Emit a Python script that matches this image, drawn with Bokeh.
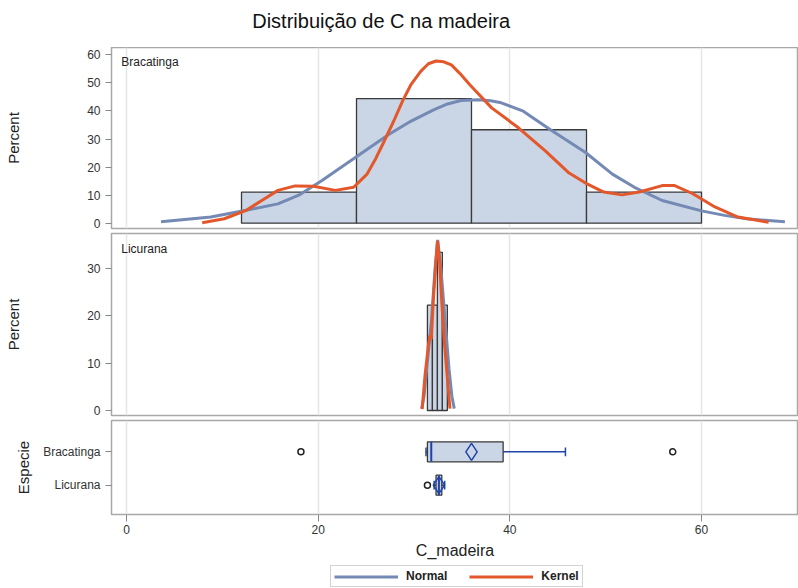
from bokeh.plotting import figure
from bokeh.layouts import column
from bokeh.models import (Range1d, FixedTicker, Grid, Label, Legend, LegendItem,
                          ColumnDataSource)
from bokeh.embed import file_html
from bokeh.resources import INLINE

# ---------------- data ----------------
title_text = "Distribuição de C na madeira"
x_ticks = [0, 20, 40, 60]

brac_edges = [12, 24, 36, 48, 60]
brac_pct = [11.1, 44.4, 33.3, 11.1]

lic_edges = [31.40, 31.92, 32.44, 32.96, 33.48]
lic_pct = [22.2, 22.2, 33.3, 22.2]

brac_norm_x = [3.6, 8.8, 12.5, 15.8, 18.1, 20.4, 23.8, 27.4, 29.7, 32.1, 33.5, 34.9,
               36.7, 38.0, 39.1, 41.4, 44.2, 47.9, 50.7, 53.0, 55.9, 60.0, 62.4,
               64.7, 68.7]
brac_norm_y = [0.5, 2.2, 4.6, 6.9, 10.2, 15.2, 23.2, 31.7, 36.4, 40.5, 42.5, 43.7,
               44.0, 43.6, 42.9, 39.9, 33.4, 25.2, 17.5, 12.8, 8.1, 4.4, 2.8,
               1.6, 0.5]

brac_kern_x = [7.9, 10.2, 12.5, 14.2, 15.8, 17.6, 19.5, 21.8, 23.7, 25.1, 26.0, 26.9,
               27.9, 28.8, 29.7, 30.7, 31.5, 32.3, 33.1, 33.9, 34.8, 35.8, 38.1,
               40.9, 43.7, 46.1, 47.9, 49.8, 51.7, 53.5, 55.9, 57.2, 59.1, 61.4,
               63.8, 67.0]
brac_kern_y = [0.2, 1.6, 4.6, 8.3, 11.7, 13.3, 13.2, 11.7, 12.8, 17.5, 23.0, 29.3,
               36.5, 43.5, 49.5, 54.1, 56.8, 57.8, 57.5, 56.4, 53.3, 49.4, 41.1,
               34.0, 25.8, 18.1, 14.3, 11.1, 10.1, 11.1, 13.4, 13.4, 10.5, 5.8,
               2.2, 0.35]

lic_norm_x = [30.8, 31.05, 31.32, 31.84, 32.19, 32.47, 32.81, 33.23, 33.65, 33.95, 34.2]
lic_norm_y = [0.4, 3.0, 8.8, 19.3, 29.8, 35.9, 29.8, 19.3, 8.8, 3.0, 0.4]

lic_kern_x = [30.85, 31.15, 31.5, 31.67, 31.8, 32.0, 32.26, 32.45, 32.65, 32.9,
              33.15, 33.4, 33.75]
lic_kern_y = [0.3, 7.4, 13.7, 15.8, 15.0, 22.8, 30.5, 35.7, 32.0, 22.8, 15.0, 8.8, 0.4]

species = ["Bracatinga", "Licurana"]
box_pos = [1, 0]
box_q1 = [31.4, 32.3]
box_med = [31.8, 32.6]
box_q3 = [39.3, 32.9]
box_mean = [36.0, 32.6]
box_wlo = [31.25, 32.1]
box_whi = [45.8, 33.2]
out_x = [18.2, 57.0, 31.4]
out_species = ["Bracatinga", "Bracatinga", "Licurana"]

# ---------------- styles ----------------
FONT = "Liberation Sans"
HIST_FILL = "#CAD5E5"
HIST_LINE = "#3A3A3A"
NORM_C = "#7489B3"
KERN_C = "#E4572A"
BOX_BLUE = "#2043A8"
FRAME_C = "#A8A8A8"
GRID_C = "#E6E6E6"
W = 798
X0, X1 = -1.565, 70.12
xr = Range1d(X0, X1)


def style(p, yticks):
    p.outline_line_color = FRAME_C
    p.outline_line_width = 1.5
    p.background_fill_color = "white"
    p.border_fill_color = "white"
    p.min_border_left = 111
    p.min_border_right = 0
    p.yaxis.ticker = FixedTicker(ticks=yticks)
    p.yaxis.axis_line_color = None
    p.yaxis.major_tick_line_color = "#888888"
    p.yaxis.major_tick_out = 6
    p.yaxis.major_tick_in = 0
    p.yaxis.minor_tick_line_color = None
    p.yaxis.major_label_text_font = FONT
    p.yaxis.major_label_text_font_size = "12px"
    p.yaxis.major_label_text_color = "#333333"
    p.yaxis.axis_label_text_font = FONT
    p.yaxis.axis_label_text_font_size = "15px"
    p.yaxis.axis_label_text_font_style = "normal"
    p.yaxis.axis_label_text_color = "#222222"
    p.add_layout(Grid(dimension=0, ticker=FixedTicker(ticks=x_ticks),
                      grid_line_color=GRID_C, grid_line_width=1.5))


# ---- title strip ----
p0 = figure(width=W, height=47, x_range=xr, y_range=Range1d(0, 47),
            output_backend="svg", toolbar_location=None,
            x_axis_location=None, y_axis_location=None, min_border=0)
p0.grid.visible = False
p0.outline_line_color = None
p0.border_fill_color = "white"
p0.add_layout(Label(x=13.12, y=27, text=title_text, text_align="left",
                    text_baseline="middle", text_font=FONT,
                    text_font_size="20px", text_color="#111111"))

# ---- top panel: Bracatinga histogram ----
p1 = figure(width=W, height=183, x_range=xr, y_range=Range1d(-1.88, 62.6),
            output_backend="svg", toolbar_location=None, x_axis_location=None)
p1.grid.visible = False
style(p1, [0, 10, 20, 30, 40, 50, 60])
p1.min_border_top = 0
p1.min_border_bottom = 2
p1.yaxis.axis_label = "Percent"
p1.yaxis.axis_label_standoff = 62
p1.quad(left=brac_edges[:-1], right=brac_edges[1:], top=brac_pct, bottom=0,
        fill_color=HIST_FILL, line_color=HIST_LINE, line_width=1.3)
p1.line(brac_norm_x, brac_norm_y, line_color=NORM_C, line_width=3)
p1.line(brac_kern_x, brac_kern_y, line_color=KERN_C, line_width=3)
p1.add_layout(Label(x=-0.55, y=57.5, text="Bracatinga", text_baseline="middle",
                    text_font=FONT, text_font_size="12px", text_color="#222222"))

# ---- middle panel: Licurana histogram ----
p2 = figure(width=W, height=187, x_range=xr, y_range=Range1d(-1.05, 37.27),
            output_backend="svg", toolbar_location=None, x_axis_location=None)
p2.grid.visible = False
style(p2, [0, 10, 20, 30])
p2.min_border_top = 3
p2.min_border_bottom = 2
p2.yaxis.axis_label = "Percent"
p2.yaxis.axis_label_standoff = 62
p2.quad(left=lic_edges[:-1], right=lic_edges[1:], top=lic_pct, bottom=0,
        fill_color=HIST_FILL, line_color=HIST_LINE, line_width=1.3)
p2.line(lic_norm_x, lic_norm_y, line_color=NORM_C, line_width=3)
p2.line(lic_kern_x, lic_kern_y, line_color=KERN_C, line_width=3)
p2.add_layout(Label(x=-0.55, y=34.1, text="Licurana", text_baseline="middle",
                    text_font=FONT, text_font_size="12px", text_color="#222222"))

# ---- bottom panel: box plots ----
p3 = figure(width=W, height=144, x_range=xr, y_range=Range1d(-0.88, 1.94),
            output_backend="svg", toolbar_location=None)
p3.grid.visible = False
style(p3, [0, 1])
p3.min_border_top = 3
p3.min_border_bottom = 0
p3.yaxis.major_label_overrides = {1: "Bracatinga", 0: "Licurana"}
p3.yaxis.axis_label = "Especie"
p3.yaxis.axis_label_standoff = 8
p3.xaxis.ticker = FixedTicker(ticks=x_ticks)
p3.xaxis.axis_line_color = None
p3.xaxis.major_tick_line_color = "#888888"
p3.xaxis.major_tick_out = 7
p3.xaxis.major_tick_in = 0
p3.xaxis.major_label_standoff = 3
p3.xaxis.minor_tick_line_color = None
p3.xaxis.major_label_text_font = FONT
p3.xaxis.major_label_text_font_size = "12px"
p3.xaxis.major_label_text_color = "#333333"
p3.xaxis.axis_label = "C_madeira"
p3.xaxis.axis_label_text_font = FONT
p3.xaxis.axis_label_text_font_size = "16px"
p3.xaxis.axis_label_text_font_style = "normal"
p3.xaxis.axis_label_text_color = "#222222"
p3.xaxis.axis_label_standoff = 5

hb = 0.30
box_src = ColumnDataSource(dict(
    y=box_pos, q1=box_q1, q3=box_q3, med=box_med, mean=box_mean,
    wlo=box_wlo, whi=box_whi,
    top=[v + hb for v in box_pos], bot=[v - hb for v in box_pos],
    ctop=[v + 0.13 for v in box_pos], cbot=[v - 0.13 for v in box_pos]))
p3.segment(x0="q3", x1="whi", y0="y", y1="y", source=box_src,
           line_color=BOX_BLUE, line_width=1.5)
p3.segment(x0="wlo", x1="q1", y0="y", y1="y", source=box_src,
           line_color=BOX_BLUE, line_width=1.5)
p3.segment(x0="whi", x1="whi", y0="cbot", y1="ctop", source=box_src,
           line_color=BOX_BLUE, line_width=1.5)
p3.segment(x0="wlo", x1="wlo", y0="cbot", y1="ctop", source=box_src,
           line_color=BOX_BLUE, line_width=1.5)
p3.quad(left="q1", right="q3", top="top", bottom="bot", source=box_src,
        fill_color=HIST_FILL, line_color=HIST_LINE, line_width=1.3)
p3.segment(x0="med", x1="med", y0="bot", y1="top", source=box_src,
           line_color=BOX_BLUE, line_width=2)
p3.scatter(x="mean", y="y", source=box_src, marker="diamond", size=17,
           fill_color=None, line_color=BOX_BLUE, line_width=1.5)
out_y = [box_pos[species.index(s)] for s in out_species]
p3.scatter(x=out_x, y=out_y, marker="circle", size=6, fill_color=None,
           line_color="#222222", line_width=1.5)

# ---- legend strip ----
p4 = figure(width=W, height=27, x_range=Range1d(0, 1), y_range=Range1d(0, 1),
            output_backend="svg", toolbar_location=None,
            x_axis_location=None, y_axis_location=None, min_border=0)
p4.grid.visible = False
p4.outline_line_color = None
p4.border_fill_color = "white"
# proxy lines drawn outside the visible range; only their legend glyphs show
r_n = p4.line(x=[5, 6], y=[5, 6], line_color=NORM_C, line_width=3)
r_k = p4.line(x=[5, 6], y=[5, 6], line_color=KERN_C, line_width=3)
legend = Legend(items=[LegendItem(label="Normal", renderers=[r_n]),
                       LegendItem(label="Kernel", renderers=[r_k])],
                orientation="horizontal", location=(219, 1),
                glyph_width=64, glyph_height=13, label_height=13,
                label_standoff=8, spacing=22, padding=3, margin=0,
                border_line_color="#A8A8A8",
                label_text_font=FONT, label_text_font_size="12px",
                label_text_font_style="bold", label_text_color="#222222",
                background_fill_color="white")
p4.add_layout(legend)

layout = column(p0, p1, p2, p3, p4, spacing=0)
open("out.html", "w").write(file_html(layout, INLINE))
